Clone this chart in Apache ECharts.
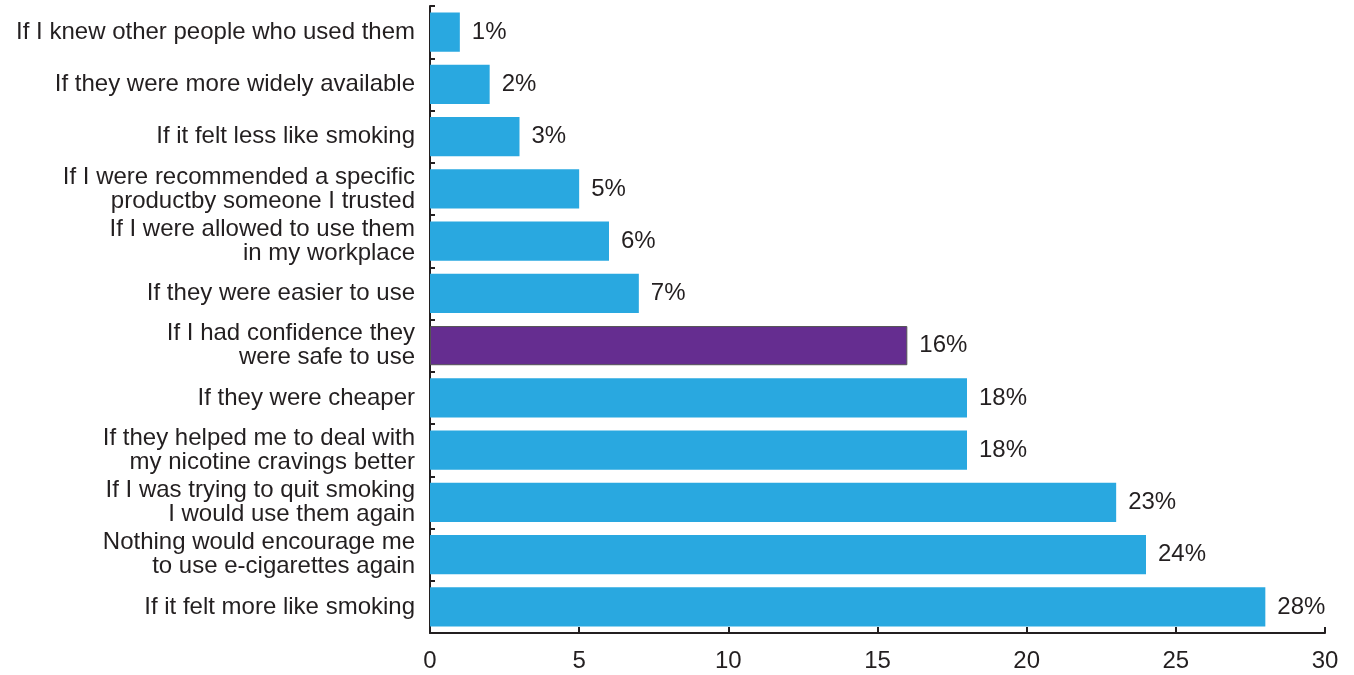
<!DOCTYPE html>
<html><head><meta charset="utf-8">
<script src="https://cdn.jsdelivr.net/npm/echarts@6/dist/echarts.min.js"></script>
<style>html,body{margin:0;padding:0;background:#fff}#c{width:1354px;height:675px}</style>
</head><body><div id="c"></div>
<script>
const categories = [
  "If I knew other people who used them",
  "If they were more widely available",
  "If it felt less like smoking",
  "If I were recommended a specific\nproductby someone I trusted",
  "If I were allowed to use them\nin my workplace",
  "If they were easier to use",
  "If I had confidence they\nwere safe to use",
  "If they were cheaper",
  "If they helped me to deal with\nmy nicotine cravings better",
  "If I was trying to quit smoking\nI would use them again",
  "Nothing would encourage me\nto use e-cigarettes again",
  "If it felt more like smoking"
];
const values = [1, 2, 3, 5, 6, 7, 16, 18, 18, 23, 24, 28];
const highlightIndex = 6;
const xTicks = [0, 5, 10, 15, 20, 25, 30];

const chart = echarts.init(document.getElementById('c'));
const font = "'Liberation Sans', Arial, sans-serif";
chart.setOption({
  animation: false,
  grid: {left: 430, right: 29, top: 6, bottom: 42, containLabel: false},
  xAxis: {
    type: 'value', min: xTicks[0], max: xTicks[xTicks.length - 1], interval: 5,
    axisLine: {show: true, lineStyle: {color: '#231F20', width: 2}},
    axisTick: {show: true, inside: true, length: 6, lineStyle: {color: '#231F20', width: 2}},
    splitLine: {show: false},
    axisLabel: {color: '#231F20', fontSize: 24, fontFamily: font, margin: 16}
  },
  yAxis: {
    type: 'category', data: categories, inverse: true,
    axisLine: {show: true, lineStyle: {color: '#231F20', width: 2}},
    axisTick: {show: true, inside: true, length: 5, lineStyle: {color: '#231F20', width: 2}},
    axisLabel: {color: '#231F20', fontSize: 24, fontFamily: font, margin: 15, align: 'right', lineHeight: 24}
  },
  series: [{
    type: 'bar',
    barCategoryGap: '25%',
    data: values.map((v, i) => i === highlightIndex
      ? {value: v, itemStyle: {color: '#652D90', borderColor: '#555', borderWidth: 1}}
      : {value: v}),
    itemStyle: {color: '#29A8E0'},
    label: {show: true, position: 'right', distance: 12, formatter: '{c}%', color: '#231F20', fontSize: 24, fontFamily: font}
  }]
});
</script></body></html>
